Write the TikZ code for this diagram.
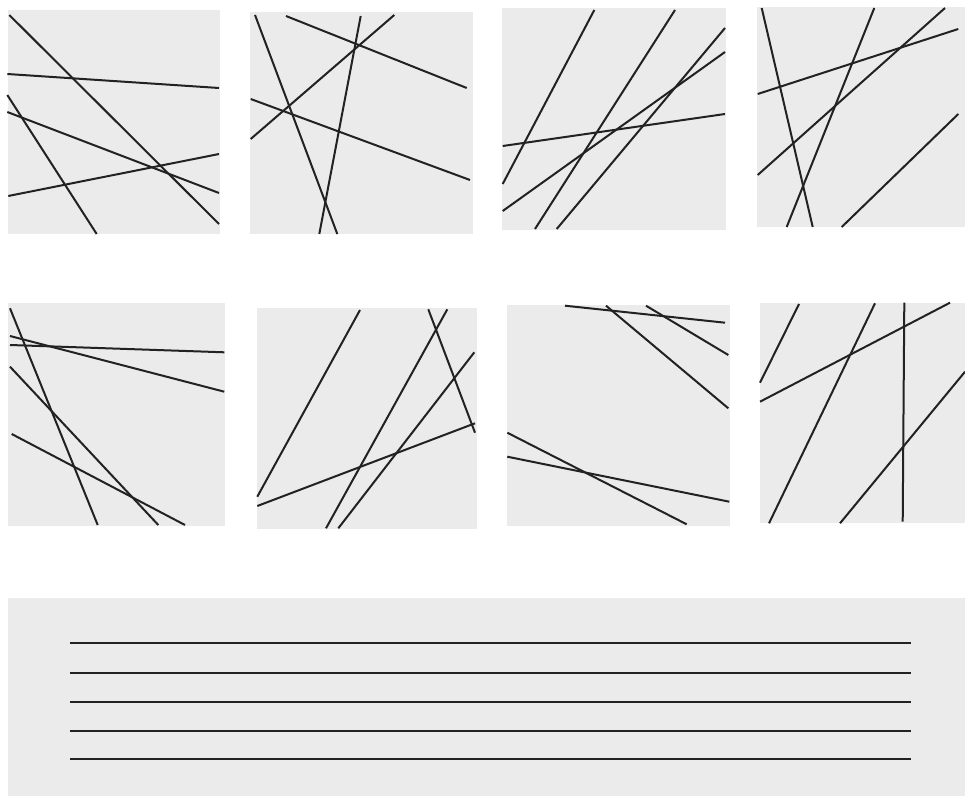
\documentclass[tikz,border=0pt]{standalone}
\definecolor{paper}{HTML}{EBEBEB}
\definecolor{ink}{HTML}{222222}
\tikzset{
  panel/.style={fill=paper, draw=none},
  stroke/.style={draw=ink, line width=2pt, line cap=butt},
}
\begin{document}
\begin{tikzpicture}[x=1pt,y=-1pt]
\useasboundingbox (0,0) rectangle (965,799);
\fill[white] (0,0) rectangle (965,799);
% panels
\fill[panel] (8,10) rectangle (220,234);
\fill[panel] (250,12) rectangle (473,234);
\fill[panel] (502,8) rectangle (726,230);
\fill[panel] (757,7) rectangle (965,227);
\fill[panel] (8,303) rectangle (225,526);
\fill[panel] (257,308) rectangle (477,529);
\fill[panel] (507,305) rectangle (730,526);
\fill[panel] (760,303) rectangle (965,523);
\fill[panel] (8,598) rectangle (965,796);
% square 1
\draw[stroke] (9.3,15) -- (219,224);
\draw[stroke] (7.3,74) -- (219,88);
\draw[stroke] (7.3,95) -- (96.7,234);
\draw[stroke] (7.3,112) -- (219,193);
\draw[stroke] (8.3,196) -- (219,154);
% square 2
\draw[stroke] (255,15) -- (337.3,234);
\draw[stroke] (286,16) -- (466.7,88);
\draw[stroke] (360.7,16) -- (319.3,234);
\draw[stroke] (394.3,15) -- (250.7,139);
\draw[stroke] (250.7,99) -- (470,180);
% square 3
\draw[stroke] (594.3,10) -- (502.7,184);
\draw[stroke] (675,10) -- (535,229);
\draw[stroke] (725,28) -- (556.7,229);
\draw[stroke] (725,52) -- (502.7,211);
\draw[stroke] (502.7,146) -- (725,114);
% square 4
\draw[stroke] (761.7,8) -- (812.7,227);
\draw[stroke] (874.3,8) -- (786.7,227);
\draw[stroke] (945,8) -- (757.7,175);
\draw[stroke] (757.7,94) -- (958.3,29);
\draw[stroke] (958.3,114) -- (841.7,227);
% square 5
\draw[stroke] (10,308.3) -- (97.7,525);
\draw[stroke] (10,336) -- (224.3,391.7);
\draw[stroke] (10,345) -- (224.3,352.3);
\draw[stroke] (10,366.7) -- (158.3,525);
\draw[stroke] (11.7,434) -- (185,525);
% square 6
\draw[stroke] (360,310) -- (257.3,496.7);
\draw[stroke] (447.3,309.3) -- (326,528.3);
\draw[stroke] (474.3,352.3) -- (338.3,528.3);
\draw[stroke] (428.3,309.3) -- (475,432.7);
\draw[stroke] (257.3,506) -- (475,423.3);
% square 7
\draw[stroke] (565,305.7) -- (725,322.7);
\draw[stroke] (606,305.7) -- (728.3,408.3);
\draw[stroke] (646,305.7) -- (728.3,355);
\draw[stroke] (507.3,432.7) -- (686.7,524.3);
\draw[stroke] (507.3,456.7) -- (729.3,501.7);
% square 8
\draw[stroke] (799,304) -- (760,382.7);
\draw[stroke] (875,303.3) -- (769,523.3);
\draw[stroke] (950,302.7) -- (760,401.7);
\draw[stroke] (904.3,302.7) -- (902.7,521.7);
\draw[stroke] (965,371.7) -- (840,523.3);
% bottom strip
\foreach \yy in {642.5,672.5,701.5,730.5,758.5}
  \draw[stroke] (70,\yy) -- (911,\yy);
\end{tikzpicture}
\end{document}
